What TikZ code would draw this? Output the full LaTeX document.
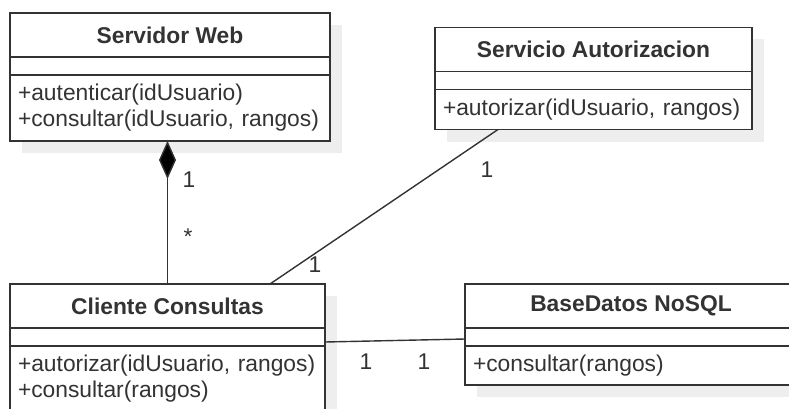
\documentclass[tikz,border=0pt]{standalone}
\usepackage{fontspec}
\setmainfont{Liberation Sans}
\usetikzlibrary{positioning,arrows.meta,backgrounds}

\definecolor{umlline}{HTML}{333333}
\definecolor{umlshadow}{HTML}{EEEEEE}

\tikzset{
  clsbox/.style={draw=umlline, line width=1.8pt, fill=white, outer sep=0pt, inner sep=0pt},
  clsname/.style={clsbox, minimum height=44pt, text=umlline, font=\bfseries\fontsize{22.8}{26}\selectfont},
  clsattr/.style={clsbox, minimum height=18pt},
  clsops/.style={clsbox, inner xsep=8pt, align=left, text=umlline, font=\fontsize{22.8}{26}\selectfont},
  assoc/.style={draw=umlline, line width=1.4pt},
  mult/.style={inner sep=0pt, text=umlline, font=\fontsize{22.8}{26}\selectfont},
}

\begin{document}
\begin{tikzpicture}[x=1pt, y=-1pt]
  \useasboundingbox (0,0) rectangle (789,409);
  \clip (0,0) rectangle (789,409);

  % Servidor Web
  \node[clsname, minimum width=320pt] (sw) at (170,35) {Servidor Web};
  \node[clsattr, minimum width=320pt, below=0pt of sw] (swa) {};
  \node[clsops, text width=304pt, minimum height=66pt, below=0pt of swa] (swo)
    {+autenticar(idUsuario)\\+consultar(idUsuario, rangos)};

  % Servicio Autorizacion
  \node[clsname, minimum width=317pt] (sa) at (593.5,49.5) {Servicio Autorizacion};
  \node[clsattr, minimum width=317pt, below=0pt of sa] (saa) {};
  \node[clsops, text width=301pt, minimum height=40pt, below=0pt of saa] (sao)
    {+autorizar(idUsuario, rangos)};

  % Cliente Consultas
  \node[clsname, minimum width=315pt] (cc) at (167.5,306) {Cliente Consultas};
  \node[clsattr, minimum width=315pt, below=0pt of cc] (cca) {};
  \node[clsops, text width=299pt, minimum height=66pt, below=0pt of cca] (cco)
    {+autorizar(idUsuario, rangos)\\+consultar(rangos)};

  % BaseDatos NoSQL
  \node[clsname, minimum width=332pt] (bd) at (631,306) {BaseDatos NoSQL};
  \node[clsattr, minimum width=332pt, below=0pt of bd] (bda) {};
  \node[clsops, text width=316pt, minimum height=39pt, below=0pt of bda] (bdo)
    {+consultar(rangos)};

  % shadows
  \begin{scope}[on background layer]
    \fill[umlshadow] ([xshift=12pt,yshift=-12pt]sw.north west) rectangle ([xshift=12pt,yshift=-12pt]swo.south east);
    \fill[umlshadow] ([xshift=12pt,yshift=-12pt]sa.north west) rectangle ([xshift=12pt,yshift=-12pt]sao.south east);
    \fill[umlshadow] ([xshift=12pt,yshift=-12pt]cc.north west) rectangle ([xshift=12pt,yshift=-12pt]cco.south east);
    \fill[umlshadow] ([xshift=12pt,yshift=-12pt]bd.north west) rectangle ([xshift=12pt,yshift=-12pt]bdo.south east);
  \end{scope}

  % connectors
  \draw[assoc, -{Diamond[length=38pt, width=17pt, fill=black]}] (cc.north) -- (cc.north |- swo.south);
  \draw[assoc] ([xshift=63pt]sao.south west) -- ([xshift=260pt]cc.north west);
  \draw[assoc] ([yshift=-5pt]cca.east) -- ([yshift=-2pt]bda.west);

  % multiplicities
  \node[mult] (m1) at (189,180) {1};
  \node[mult] (m2) at (188,237) {*};
  \node[mult] (m3) at (487,170) {1};
  \node[mult] (m4) at (315,265) {1};
  \node[mult] (m5) at (366,362) {1};
  \node[mult] (m6) at (424,362) {1};
\end{tikzpicture}
\end{document}
